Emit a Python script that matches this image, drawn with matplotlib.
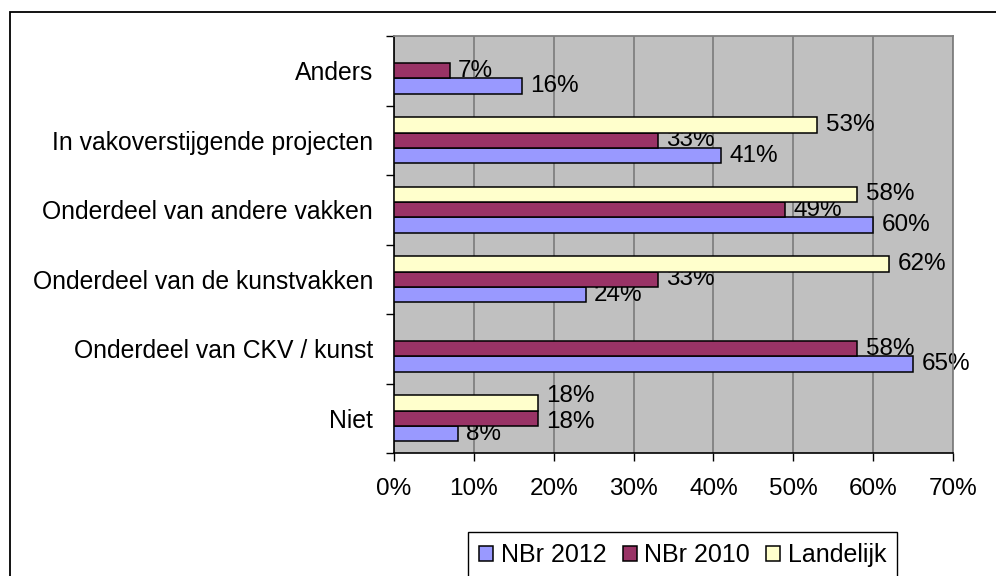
from matplotlib import pyplot as plt
from matplotlib.patches import Rectangle
import numpy as np

plt.rcParams['font.family'] = ['Liberation Sans', 'DejaVu Sans']

categories = ["Niet", "Onderdeel van CKV / kunst", "Onderdeel van de kunstvakken",
              "Onderdeel van andere vakken", "In vakoverstijgende projecten", "Anders"]
nbr_2012 = [8, 65, 24, 60, 41, 16]
nbr_2010 = [18, 58, 33, 49, 33, 7]
landelijk = [18, None, 62, 58, 53, None]
x_ticks = [0, 10, 20, 30, 40, 50, 60, 70]
x_names = ["0%", "10%", "20%", "30%", "40%", "50%", "60%", "70%"]

series = [("NBr 2012", nbr_2012, "#9999FF"),
          ("NBr 2010", nbr_2010, "#993366"),
          ("Landelijk", landelijk, "#FFFFCC")]

# labels that Excel nudged apart in the "Niet" group (vertical shift, points)
label_shift = {("Landelijk", 0): 5, ("NBr 2010", 0): -3}

fig = plt.figure(figsize=(9.96, 5.76), dpi=100)
ax = fig.add_axes([394 / 996, 1 - 453 / 576, (953 - 394) / 996, (453 - 36) / 576])
ax.set_facecolor("#C0C0C0")

y = np.arange(len(categories))
h = 1 / 4.5
for i, (name, vals, col) in enumerate(series):
    w = [np.nan if v is None else v for v in vals]
    bars = ax.barh(y + (i - 1) * h, w, height=h, color=col, edgecolor="black",
                   linewidth=1.1, label=name, zorder=3)
    labels = ["" if v is None else f"{v}%" for v in vals]
    txt = ax.bar_label(bars, labels=labels, padding=6, fontsize=17.5)
    for j, t in enumerate(txt):
        t.set_zorder(2)
        if (name, j) in label_shift:
            t.xyann = (6, label_shift[(name, j)])

ax.set_xlim(0, 70)
ax.set_ylim(-0.5, len(categories) - 0.5)
ax.set_xticks(x_ticks, x_names, fontsize=17.5)
ax.set_yticks(y, categories, fontsize=17.8)
ax.set_yticks(np.arange(-0.5, len(categories)), minor=True)
ax.tick_params(axis="y", which="major", length=0, pad=15)
ax.tick_params(axis="y", which="minor", length=6, width=1, direction="out")
ax.tick_params(axis="x", length=6, width=1, direction="out", pad=12)
ax.grid(axis="x", color="#808080", linewidth=1.3, zorder=1)
ax.set_axisbelow(True)
for s in ["top", "right"]:
    ax.spines[s].set_color("#808080")
    ax.spines[s].set_linewidth(1.3)
for s in ["left", "bottom"]:
    ax.spines[s].set_color("black")
    ax.spines[s].set_linewidth(1.2)

leg = fig.legend(loc="upper left", bbox_to_anchor=(468 / 996, 1 - 532 / 576), ncol=3,
                 fontsize=18, frameon=True, fancybox=False, edgecolor="black",
                 framealpha=1, borderaxespad=0, handlelength=0.56, handleheight=0.56,
                 handletextpad=0.3, columnspacing=0.65, borderpad=0.45)
leg.get_frame().set_linewidth(1.0)

fig.patches.append(Rectangle((10 / 996, -0.1), 1.2, 1.1 - 12 / 576, transform=fig.transFigure,
                             fill=False, edgecolor="black", linewidth=1.3))

plt.savefig("out.png", dpi=100)
